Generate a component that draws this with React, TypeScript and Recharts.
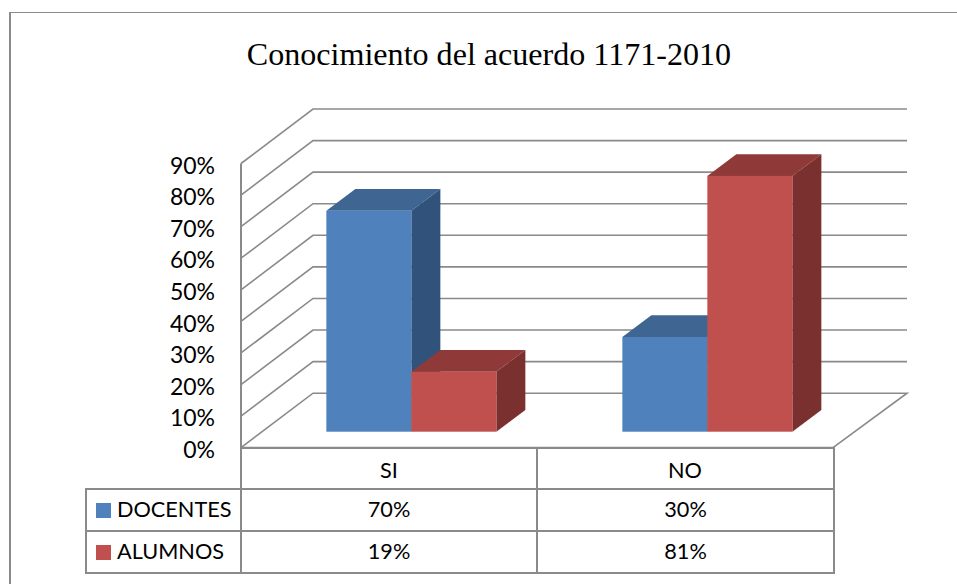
import React from 'react';
import { Bar, BarChart, CartesianGrid, XAxis, YAxis } from 'recharts';

const categories = ['SI', 'NO'];
const docentes = [70, 30];
const alumnos = [19, 81];
const yTicks = [0, 10, 20, 30, 40, 50, 60, 70, 80, 90];

const chartData = categories.map((name, i) => ({ name, docentes: docentes[i], alumnos: alumnos[i] }));

const rows = [
  { label: 'DOCENTES', color: '#4f81bd', values: docentes },
  { label: 'ALUMNOS', color: '#c0504d', values: alumnos },
];

const LINE = '#8a8a8a';
const FONT = 'Lato, "Open Sans", sans-serif';

// 3d look: wall sits behind the axis, bars stand part way into the floor
const WALL_X = 72;
const WALL_X_RIGHT = 74;
const WALL_Y = 54.5;
const BAR_X = 22;
const BAR_Y = 16;
const TOP_X = 29;
const TOP_Y = 21.7;

function box3d(front: string, top: string, side: string) {
  return (props: any) => {
    const x = props.x + BAR_X;
    const y = props.y - BAR_Y;
    const w = props.width;
    const h = props.height;
    return (
      <g>
        <polygon
          points={`${x},${y} ${x + TOP_X},${y - TOP_Y} ${x + w + TOP_X},${y - TOP_Y} ${x + w},${y}`}
          fill={top}
        />
        <polygon
          points={`${x + w},${y} ${x + w + TOP_X},${y - TOP_Y} ${x + w + TOP_X},${y + h - TOP_Y} ${x + w},${y + h}`}
          fill={side}
        />
        <rect x={x} y={y} width={w} height={h} fill={front} />
      </g>
    );
  };
}

function wallLine(props: any) {
  const { x1, x2, y1, index } = props;
  const backY = y1 - WALL_Y;
  // lowest line also closes the floor on the right
  const points =
    y1 > 440
      ? `${x1},${y1} ${x1 + WALL_X},${backY} ${x2 + WALL_X_RIGHT},${backY} ${x2},${y1}`
      : `${x1},${y1} ${x1 + WALL_X},${backY} ${x2 + WALL_X_RIGHT},${backY}`;
  return <polyline key={props.key ?? index} points={points} fill="none" stroke={LINE} strokeWidth={1.6} />;
}

const cell: React.CSSProperties = {
  border: `2px solid ${LINE}`,
  padding: '0 0 2px 0',
  textAlign: 'center',
  fontFamily: FONT,
  fontSize: 21.7,
  color: '#000',
  boxSizing: 'border-box',
};

function DataTable() {
  return (
    <table
      style={{
        position: 'absolute',
        left: 85,
        top: 447,
        width: 748,
        tableLayout: 'fixed',
        borderCollapse: 'collapse',
      }}
    >
      <colgroup>
        <col style={{ width: 155 }} />
        <col style={{ width: 296 }} />
        <col style={{ width: 297 }} />
      </colgroup>
      <tbody>
        <tr style={{ height: 41 }}>
          <td style={{ ...cell, borderLeft: 'none', borderTop: 'none' }} />
          {categories.map((c) => (
            <td key={c} style={cell} />
          ))}
        </tr>
        {rows.map((r) => (
          <tr key={r.label} style={{ height: 42 }}>
            <td style={{ ...cell, textAlign: 'left', whiteSpace: 'nowrap' }}>
              <span
                style={{
                  display: 'inline-block',
                  width: 15,
                  height: 15,
                  background: r.color,
                  marginLeft: 9,
                  marginRight: 6,
                  verticalAlign: -1,
                }}
              />
              {r.label}
            </td>
            {r.values.map((v, i) => (
              <td key={i} style={cell}>{`${v}%`}</td>
            ))}
          </tr>
        ))}
      </tbody>
    </table>
  );
}

export default function App() {
  return (
    <div
      style={{
        position: 'absolute',
        left: 0,
        top: 0,
        width: 957,
        height: 584,
        overflow: 'hidden',
        background: '#fff',
      }}
    >
      <div
        style={{
          position: 'absolute',
          left: 9,
          top: 12,
          width: 1100,
          height: 800,
          borderLeft: `2px solid ${LINE}`,
          borderTop: `1px solid ${LINE}`,
        }}
      />
      <div
        style={{
          position: 'absolute',
          left: 0,
          top: 34,
          width: 978,
          textAlign: 'center',
          fontFamily: '"Liberation Serif", serif',
          fontSize: 32.1,
          color: '#000',
          lineHeight: '40px',
        }}
      >
        Conocimiento del acuerdo 1171-2010
      </div>
      <DataTable />
      <BarChart
        style={{ position: 'absolute', left: 0, top: 0 }}
        width={957}
        height={584}
        data={chartData}
        margin={{ top: 163.5, right: 124, bottom: 96.3, left: 181 }}
        barCategoryGap="21.4%"
        barGap={0}
      >
        <CartesianGrid vertical={false} horizontal={wallLine} />
        <XAxis
          dataKey="name"
          height={40}
          axisLine={{ stroke: LINE, strokeWidth: 2 }}
          tickLine={false}
          tickMargin={9}
          tick={{ fontFamily: FONT, fontSize: 21.7, fill: '#000' }}
        />
        <YAxis
          width={60}
          domain={[0, 90]}
          ticks={yTicks}
          interval={0}
          tickFormatter={(v) => `${v}%`}
          axisLine={{ stroke: LINE, strokeWidth: 2 }}
          tickLine={false}
          tickSize={0}
          tickMargin={26}
          tick={{ fontFamily: FONT, fontSize: 23, fill: '#000', dy: 2 }}
        />
        <Bar dataKey="docentes" isAnimationActive={false} shape={box3d('#4f81bd', '#3f6593', '#31527a')} />
        <Bar dataKey="alumnos" isAnimationActive={false} shape={box3d('#c0504d', '#8f3a38', '#7a302e')} />
      </BarChart>
    </div>
  );
}
